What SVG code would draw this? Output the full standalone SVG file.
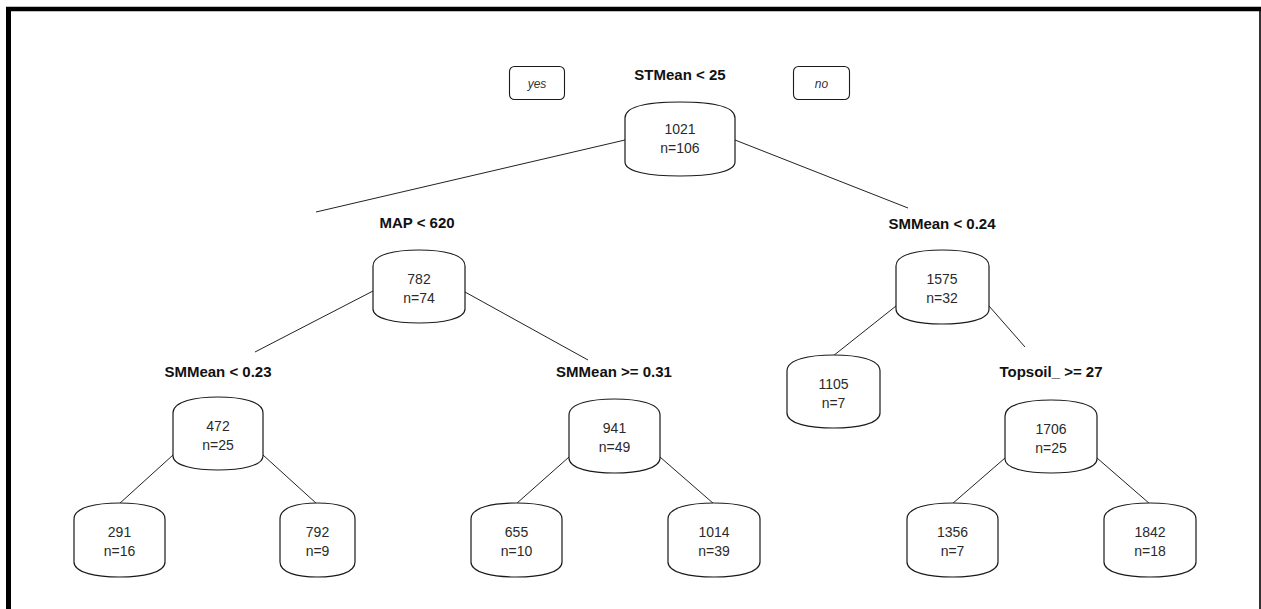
<svg xmlns="http://www.w3.org/2000/svg" width="1261" height="609" viewBox="0 0 1261 609">
  <style>
    .nd { fill: #ffffff; stroke: #1a1a1a; stroke-width: 1.2; }
    .val { font-family: "Liberation Sans", Arial, sans-serif; font-size: 14px; fill: #2a2a2a; text-anchor: middle; }
    .split { font-family: "Liberation Sans", Arial, sans-serif; font-size: 15px; font-weight: bold; fill: #111111; text-anchor: middle; }
    .yn { font-family: "Liberation Sans", Arial, sans-serif; font-size: 12px; font-style: italic; fill: #333333; text-anchor: middle; }
    .ynbox { fill: #ffffff; stroke: #1a1a1a; stroke-width: 1.1; }
    .edge { stroke: #222222; stroke-width: 1; fill: none; }
  </style>

  <!-- frame -->
  <rect x="0" y="0" width="1261" height="609" fill="#ffffff"/>
  <line x1="6" y1="9" x2="1261" y2="9" stroke="#000" stroke-width="4.5"/>
  <line x1="8.5" y1="7" x2="8.5" y2="609" stroke="#000" stroke-width="5"/>
  <line x1="1260" y1="7" x2="1260" y2="609" stroke="#000" stroke-width="1.6"/>

  <!-- branches -->
  <g id="connectors">
    <line class="edge" x1="625" y1="140" x2="316" y2="212"/>
    <line class="edge" x1="735" y1="140" x2="908" y2="208"/>
    <line class="edge" x1="373" y1="291" x2="255" y2="352"/>
    <line class="edge" x1="465" y1="292" x2="588" y2="360"/>
    <line class="edge" x1="896" y1="306" x2="833" y2="356"/>
    <line class="edge" x1="989" y1="306" x2="1025" y2="347"/>
    <line class="edge" x1="173" y1="455" x2="119" y2="504"/>
    <line class="edge" x1="263" y1="455" x2="317" y2="504"/>
    <line class="edge" x1="569" y1="457" x2="516" y2="504"/>
    <line class="edge" x1="660" y1="457" x2="714" y2="504"/>
    <line class="edge" x1="1005" y1="458" x2="952" y2="504"/>
    <line class="edge" x1="1097" y1="458" x2="1150" y2="504"/>
  </g>

  <!-- yes / no tags -->
  <g id="tag-yes">
    <rect class="ynbox" x="509.5" y="66.5" width="55" height="33" rx="5"/>
    <text class="yn" x="537" y="88">yes</text>
  </g>
  <g id="tag-no">
    <rect class="ynbox" x="793.5" y="66.5" width="56" height="33" rx="5"/>
    <text class="yn" x="821.5" y="88">no</text>
  </g>

  <!-- root -->
  <g id="node-root">
    <text class="split" x="680" y="80">STMean &lt; 25</text>
    <path class="nd" d="M625,118 C625,106 650,102 680,102 C710,102 735,106 735,118 L735,162 C735,172 710,176 680,176 C650,176 625,172 625,162 Z"/>
    <text class="val" x="680" y="134">1021</text>
    <text class="val" x="680" y="153">n=106</text>
  </g>

  <g id="node-map">
    <text class="split" x="417" y="228">MAP &lt; 620</text>
    <path class="nd" d="M373,266 C373,254 396,250 419,250 C442,250 465,254 465,266 L465,309 C465,319 442,323 419,323 C396,323 373,319 373,309 Z"/>
    <text class="val" x="419" y="284">782</text>
    <text class="val" x="419" y="303">n=74</text>
  </g>

  <g id="node-smm24">
    <text class="split" x="942" y="229">SMMean &lt; 0.24</text>
    <path class="nd" d="M896,266 C896,254 919,250 942,250 C966,250 989,254 989,266 L989,309 C989,320 966,324 942,324 C919,324 896,320 896,309 Z"/>
    <text class="val" x="942" y="284">1575</text>
    <text class="val" x="942" y="303">n=32</text>
  </g>

  <g id="node-smm23">
    <text class="split" x="218" y="377">SMMean &lt; 0.23</text>
    <path class="nd" d="M173,413 C173,401 196,397 218,397 C240,397 263,401 263,413 L263,456 C263,466 240,470 218,470 C196,470 173,466 173,456 Z"/>
    <text class="val" x="218" y="431">472</text>
    <text class="val" x="218" y="450">n=25</text>
  </g>

  <g id="node-smm31">
    <text class="split" x="614" y="377">SMMean &gt;= 0.31</text>
    <path class="nd" d="M569,415 C569,403 592,399 614.5,399 C637,399 660,403 660,415 L660,458 C660,469 637,473 614.5,473 C592,473 569,469 569,458 Z"/>
    <text class="val" x="614.5" y="433">941</text>
    <text class="val" x="614.5" y="452">n=49</text>
  </g>

  <g id="node-1105">
    <path class="nd" d="M787,371 C787,359 810,355 833.5,355 C857,355 880,359 880,371 L880,413 C880,424 857,428 833.5,428 C810,428 787,424 787,413 Z"/>
    <text class="val" x="833.5" y="389">1105</text>
    <text class="val" x="833.5" y="408">n=7</text>
  </g>

  <g id="node-topsoil">
    <text class="split" x="1051" y="377">Topsoil_ &gt;= 27</text>
    <path class="nd" d="M1005,416 C1005,404 1028,400 1051,400 C1074,400 1097,404 1097,416 L1097,459 C1097,469 1074,473 1051,473 C1028,473 1005,469 1005,459 Z"/>
    <text class="val" x="1051" y="434">1706</text>
    <text class="val" x="1051" y="453">n=25</text>
  </g>

  <!-- leaves -->
  <g id="leaf-291">
    <path class="nd" d="M74,519 C74,507 97,503 119.5,503 C142,503 165,507 165,519 L165,562 C165,573 142,577 119.5,577 C97,577 74,573 74,562 Z"/>
    <text class="val" x="119.5" y="537">291</text>
    <text class="val" x="119.5" y="556">n=16</text>
  </g>
  <g id="leaf-792">
    <path class="nd" d="M280,519 C280,507 298,503 317.5,503 C337,503 355,507 355,519 L355,562 C355,573 337,577 317.5,577 C298,577 280,573 280,562 Z"/>
    <text class="val" x="317.5" y="537">792</text>
    <text class="val" x="317.5" y="556">n=9</text>
  </g>
  <g id="leaf-655">
    <path class="nd" d="M471,519 C471,507 494,503 516.5,503 C539,503 562,507 562,519 L562,562 C562,573 539,577 516.5,577 C494,577 471,573 471,562 Z"/>
    <text class="val" x="516.5" y="537">655</text>
    <text class="val" x="516.5" y="556">n=10</text>
  </g>
  <g id="leaf-1014">
    <path class="nd" d="M668,519 C668,507 691,503 714,503 C737,503 760,507 760,519 L760,562 C760,573 737,577 714,577 C691,577 668,573 668,562 Z"/>
    <text class="val" x="714" y="537">1014</text>
    <text class="val" x="714" y="556">n=39</text>
  </g>
  <g id="leaf-1356">
    <path class="nd" d="M907,519 C907,507 930,503 952.5,503 C975,503 998,507 998,519 L998,562 C998,573 975,577 952.5,577 C930,577 907,573 907,562 Z"/>
    <text class="val" x="952.5" y="537">1356</text>
    <text class="val" x="952.5" y="556">n=7</text>
  </g>
  <g id="leaf-1842">
    <path class="nd" d="M1104,519 C1104,507 1127,503 1150,503 C1173,503 1196,507 1196,519 L1196,562 C1196,573 1173,577 1150,577 C1127,577 1104,573 1104,562 Z"/>
    <text class="val" x="1150" y="537">1842</text>
    <text class="val" x="1150" y="556">n=18</text>
  </g>
</svg>
